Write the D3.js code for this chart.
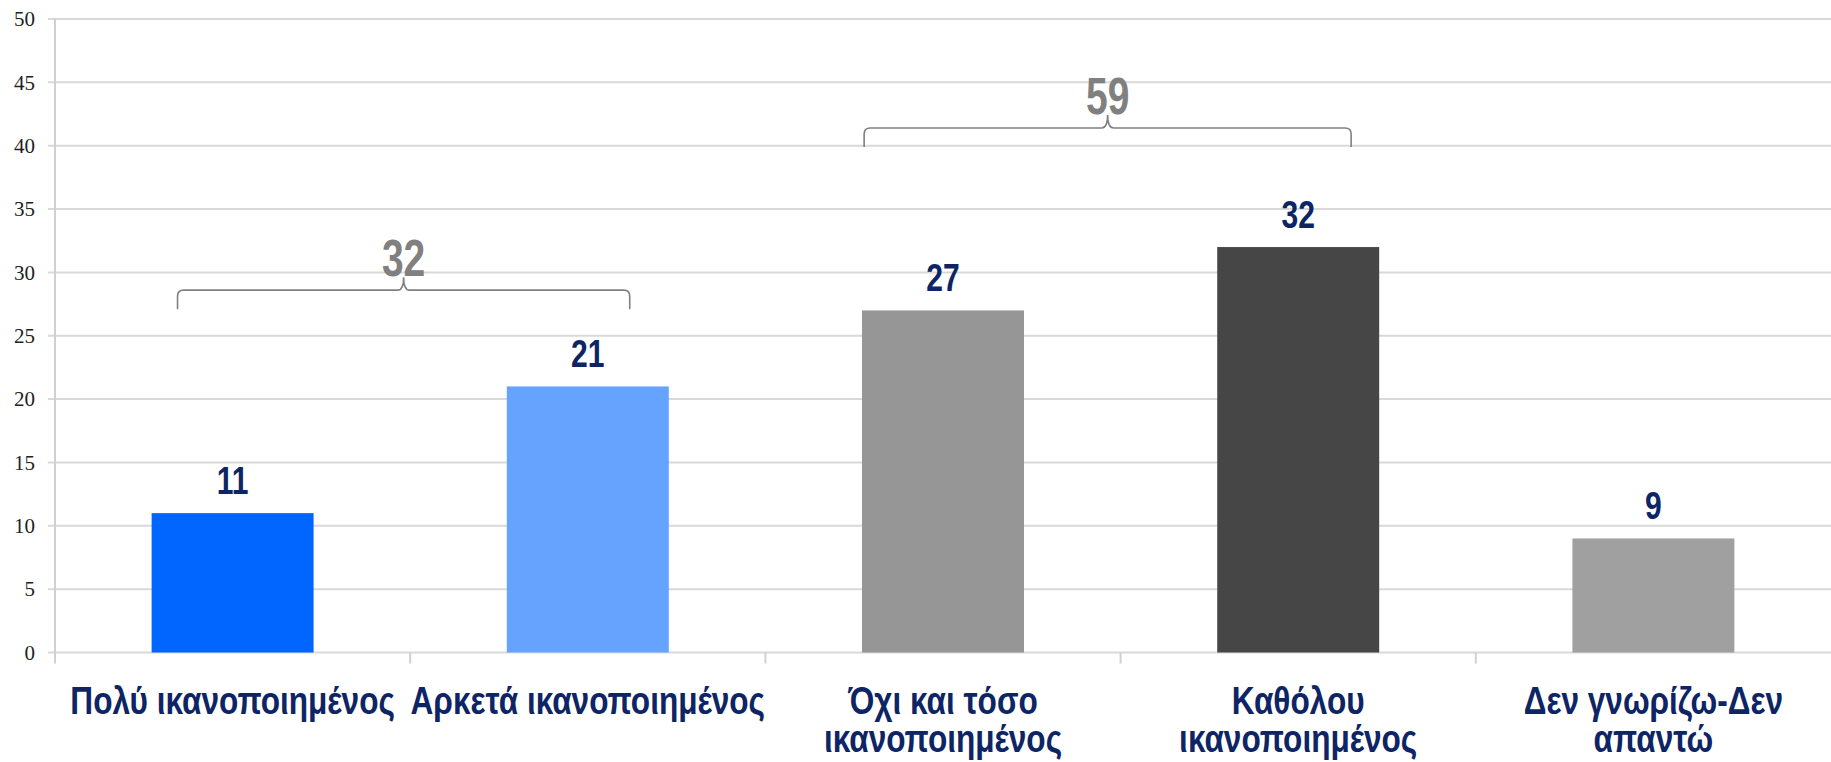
<!DOCTYPE html>
<html>
<head>
<meta charset="utf-8">
<script src="https://cdn.jsdelivr.net/npm/d3@7"></script>
<style>
body { margin: 0; background: #fff; }
svg { display: block; }
</style>
</head>
<body>
<svg></svg>
<script>
// data
var categories = ["Πολύ ικανοποιημένος", "Αρκετά ικανοποιημένος", "Όχι και τόσο ικανοποιημένος", "Καθόλου ικανοποιημένος", "Δεν γνωρίζω-Δεν απαντώ"]
var labelLines = [["Πολύ ικανοποιημένος"], ["Αρκετά ικανοποιημένος"], ["Όχι και τόσο", "ικανοποιημένος"], ["Καθόλου", "ικανοποιημένος"], ["Δεν γνωρίζω-Δεν", "απαντώ"]]
var values = [11, 21, 27, 32, 9]
var barColors = ["#0066ff", "#66a3ff", "#969696", "#464646", "#a0a0a0"]
var yTicks = [0, 5, 10, 15, 20, 25, 30, 35, 40, 45, 50]
var groupFrom = [0, 2]
var groupTo = [1, 3]
var groupTotals = [32, 59]

var screen = {width: 1831, height: 762}
var plot = {left: 55, right: 1831, top: 19, bottom: 652.5}
var navy = "#0d2465"
// no narrow font installed, so squeeze the bold sans horizontally
var sansBold = "'Liberation Sans', Arial, sans-serif"

// brace placement (layout only)
var braceLevel = [28.6, 41.4]
var braceInset = [[-0.155, 0.118], [-0.222, 0.149]]

var svg = d3.select("svg")
    .attr("width", screen.width)
    .attr("height", screen.height)

var xscale = d3.scaleBand()
    .domain(categories)
    .range([plot.left, plot.right])
    .paddingInner(0)
    .paddingOuter(0)

var yscale = d3.scaleLinear()
    .domain([0, 50])
    .range([plot.bottom, plot.top])

var bw = xscale.bandwidth()
var barW = bw * 0.456

var squeeze = function(x, y, sx) {
    return "translate(" + x + "," + y + ") scale(" + sx + ",1)"
}

// gridlines
svg.append("g")
    .selectAll("line")
    .data(yTicks)
    .enter()
    .append("line")
    .attr("x1", plot.left - 7)
    .attr("x2", plot.right)
    .attr("y1", function(d) {return yscale(d)})
    .attr("y2", function(d) {return yscale(d)})
    .attr("stroke", "#d9d9d9")
    .attr("stroke-width", 2)

// y axis
var yAxis = d3.axisLeft(yscale)
    .tickValues(yTicks)
    .tickSize(0)
    .tickPadding(20)

var gy = svg.append("g")
    .attr("transform", "translate(" + plot.left + ",0)")
    .call(yAxis)
gy.select(".domain").remove()
gy.selectAll("text")
    .attr("font-family", "'Liberation Serif', 'DejaVu Serif', serif")
    .attr("font-size", 21)
    .attr("fill", "#222")

svg.append("line")
    .attr("x1", plot.left).attr("x2", plot.left)
    .attr("y1", plot.top).attr("y2", plot.bottom + 11)
    .attr("stroke", "#d0d0d0")
    .attr("stroke-width", 2)

// x axis ticks at category boundaries
svg.append("g")
    .selectAll("line")
    .data(categories.slice(1))
    .enter()
    .append("line")
    .attr("x1", function(d) {return xscale(d)})
    .attr("x2", function(d) {return xscale(d)})
    .attr("y1", plot.bottom)
    .attr("y2", plot.bottom + 11)
    .attr("stroke", "#d0d0d0")
    .attr("stroke-width", 2)

// bars
svg.append("g")
    .selectAll("rect")
    .data(values)
    .enter()
    .append("rect")
    .attr("x", function(d, i) {return xscale(categories[i]) + (bw - barW) / 2})
    .attr("y", function(d) {return yscale(d)})
    .attr("width", barW)
    .attr("height", function(d) {return yscale(0) - yscale(d)})
    .attr("fill", function(d, i) {return barColors[i]})

// value labels
svg.append("g")
    .selectAll("text")
    .data(values)
    .enter()
    .append("text")
    .attr("transform", function(d, i) {return squeeze(xscale(categories[i]) + bw / 2, yscale(d) - 19, 0.79)})
    .attr("text-anchor", "middle")
    .attr("font-family", sansBold)
    .attr("font-weight", "bold")
    .attr("font-size", 38)
    .attr("fill", navy)
    .text(function(d) {return d})

// category labels
var cat = svg.append("g")
    .selectAll("text")
    .data(labelLines)
    .enter()
    .append("text")
    .attr("transform", function(d, i) {return squeeze(xscale(categories[i]) + bw / 2, 714, 0.81)})
    .attr("text-anchor", "middle")
    .attr("font-family", sansBold)
    .attr("font-weight", "bold")
    .attr("font-size", 39)
    .attr("fill", navy)

cat.selectAll("tspan")
    .data(function(d) {return d})
    .enter()
    .append("tspan")
    .attr("x", 0)
    .attr("dy", function(d, j) {return j == 0 ? 0 : 38})
    .text(function(d) {return d})

// braces over groups
var bracePath = function(x1, x2, y) {
    var mid = (x1 + x2) / 2
    var r = 6
    var drop = 19
    var rise = 13
    return "M" + x1 + "," + (y + drop)
        + " L" + x1 + "," + (y + r)
        + " Q" + x1 + "," + y + " " + (x1 + r) + "," + y
        + " L" + (mid - 6) + "," + y
        + " Q" + mid + "," + y + " " + mid + "," + (y - rise)
        + " Q" + mid + "," + y + " " + (mid + 6) + "," + y
        + " L" + (x2 - r) + "," + y
        + " Q" + x2 + "," + y + " " + x2 + "," + (y + r)
        + " L" + x2 + "," + (y + drop)
}

var braces = groupTotals.map(function(total, k) {
    var c1 = xscale(categories[groupFrom[k]]) + bw / 2
    var c2 = xscale(categories[groupTo[k]]) + bw / 2
    return {
        x1: c1 + braceInset[k][0] * bw,
        x2: c2 + braceInset[k][1] * bw,
        y: yscale(braceLevel[k]),
        total: total
    }
})

svg.append("g")
    .selectAll("path")
    .data(braces)
    .enter()
    .append("path")
    .attr("d", function(b) {return bracePath(b.x1, b.x2, b.y)})
    .attr("fill", "none")
    .attr("stroke", "#808080")
    .attr("stroke-width", 1.6)

svg.append("g")
    .selectAll("text")
    .data(braces)
    .enter()
    .append("text")
    .attr("transform", function(b) {return squeeze((b.x1 + b.x2) / 2, b.y - 14, 0.75)})
    .attr("text-anchor", "middle")
    .attr("font-family", sansBold)
    .attr("font-weight", "bold")
    .attr("font-size", 52)
    .attr("fill", "#808080")
    .text(function(b) {return b.total})
</script>
</body>
</html>
